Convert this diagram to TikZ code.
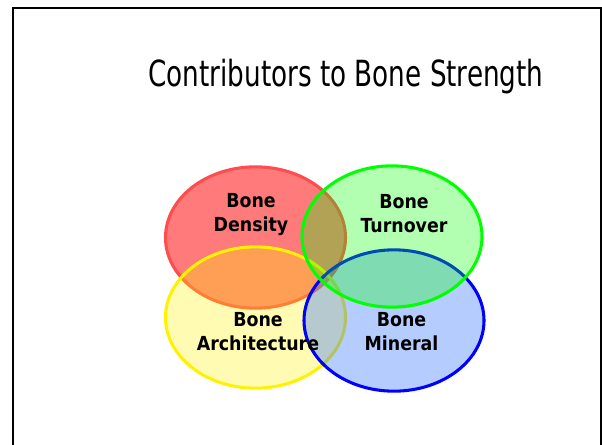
\documentclass[tikz,border=0pt]{standalone}
\usepackage{fontspec}
\setmainfont{DejaVu Sans Condensed}
\newfontfamily\titlefont[FakeStretch=0.81]{DejaVu Sans Condensed}
\usepackage{tikz}
\usetikzlibrary{shapes.geometric}
\definecolor{boneblue}{RGB}{60,120,255}

\begin{document}
\begin{tikzpicture}[
   x=0.75pt, y=-0.75pt,
   blob/.style={draw, ellipse, line width=2.3pt, inner sep=0pt,
                minimum width=135pt, minimum height=106pt},
   lbl/.style={align=center, inner sep=0pt,
               font=\bfseries\fontsize{14.5}{18}\selectfont}]

  \useasboundingbox (0,0) rectangle (602,444);
  \draw[line width=1.6pt] (13,8) rectangle (601,470);

  \node[anchor=base, font=\titlefont\fontsize{27}{32}\selectfont] (title) at (346,86)
       {Contributors to Bone Strength};

  % circles, back to front
  \node[blob, draw=red!70, fill=red, fill opacity=0.52] (density) at (255.5,237.5) {};
  \node[blob, draw=yellow, fill=yellow, fill opacity=0.3] (architecture) at (255.5,317.5) {};
  \node[blob, draw=blue, fill=boneblue, fill opacity=0.38] (mineral) at (394,320.5) {};
  \node[blob, draw=green, fill=green, fill opacity=0.3] (turnover) at (392,236.5) {};

  \node[lbl] (densitytext) at (251,215) {Bone\\Density};
  \node[lbl] (turnovertext) at (404,213.5) {Bone\\Turnover};
  \node[lbl] (architecturetext) at (258,332) {Bone\\Architecture};
  \node[lbl] (mineraltext) at (401.5,332) {Bone\\Mineral};
\end{tikzpicture}
\end{document}
